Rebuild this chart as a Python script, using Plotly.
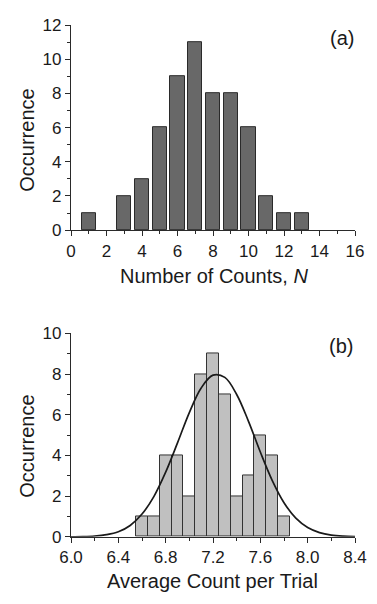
import plotly.graph_objects as go
from plotly.subplots import make_subplots

# Panel (a): number of counts N
counts_n = [1, 3, 4, 5, 6, 7, 8, 9, 10, 11, 12, 13]
counts_occ = [1, 2, 3, 6, 9, 11, 8, 8, 6, 2, 1, 1]

# Panel (b): average count per trial (bin centres, width 0.1)
avg_bins = [6.6, 6.7, 6.8, 6.9, 7.0, 7.1, 7.2, 7.3, 7.4, 7.5, 7.6, 7.7, 7.8]
avg_occ = [1, 1, 4, 4, 2, 8, 9, 7, 2, 3, 5, 4, 1]

# Fitted curve
fit_x = [6.0, 6.1, 6.2, 6.3, 6.4, 6.5, 6.6, 6.7, 6.8, 6.9, 7.0, 7.1, 7.2,
         7.3, 7.4, 7.5, 7.6, 7.7, 7.8, 7.9, 8.0, 8.1, 8.2, 8.3, 8.4]
fit_y = [0.005, 0.015, 0.043, 0.11, 0.25, 0.56, 1.12, 1.98, 3.18, 4.62, 6.11,
         7.32, 7.95, 7.84, 7.00, 5.68, 4.17, 2.78, 1.68, 0.92, 0.46, 0.21,
         0.085, 0.031, 0.011]

W, H = 377, 604
L, R = 71, 22
FONT = "Liberation Sans, Arial, Helvetica, sans-serif"
AX = "#2a2a2a"

def px(x):
    return (x - L) / (W - L - R)

def py(y):
    return (H - y) / H

fig = make_subplots(rows=2, cols=1)

fig.add_trace(go.Bar(x=counts_n, y=counts_occ, width=0.8,
                     marker=dict(color="#686868", line=dict(color="#2a2a2a", width=1)),
                     showlegend=False), row=1, col=1)
fig.add_trace(go.Bar(x=avg_bins, y=avg_occ, width=0.1,
                     marker=dict(color="#c0c0c0", line=dict(color="#333333", width=1)),
                     showlegend=False), row=2, col=1)
fig.add_trace(go.Scatter(x=fit_x, y=fit_y, mode="lines", line_shape="spline",
                         line=dict(color="#1a1a1a", width=1.7), showlegend=False),
              row=2, col=1)

common = dict(showline=True, linecolor=AX, linewidth=1.3, ticks="outside",
              ticklen=5, tickwidth=1.2, tickcolor=AX, showgrid=False,
              zeroline=False, mirror=False,
              tickfont=dict(family=FONT, size=17, color="#1a1a1a"))

fig.update_xaxes(**common, range=[0, 16], dtick=2, tick0=0,
                 minor=dict(dtick=1, ticklen=3, ticks="outside", tickcolor=AX),
                 domain=[0, 1], row=1, col=1)
fig.update_yaxes(**common, range=[0, 12], dtick=2, tick0=0,
                 minor=dict(dtick=1, ticklen=3, ticks="outside", tickcolor=AX),
                 domain=[py(228.3), py(16.7)], row=1, col=1)
fig.update_xaxes(**common, range=[6.0, 8.4], dtick=0.4, tick0=6.0, tickformat=".1f",
                 minor=dict(dtick=0.2, ticklen=3, ticks="outside", tickcolor=AX),
                 domain=[0, 1], row=2, col=1)
fig.update_yaxes(**common, range=[0, 10], dtick=2, tick0=0,
                 minor=dict(dtick=1, ticklen=3, ticks="outside", tickcolor=AX),
                 domain=[py(545), py(335)], row=2, col=1)

ann_font = dict(family=FONT, size=20, color="#1a1a1a")
annotations = [
    dict(text="Occurrence", x=px(27), y=py(136), textangle=-90),
    dict(text="Occurrence", x=px(27), y=py(452), textangle=-90),
    dict(text="Number of Counts, <i>N</i>", x=px(214), y=py(276)),
    dict(text="Average Count per Trial", x=px(212.5), y=py(591)),
    dict(text="(a)", x=px(341.5), y=py(30)),
    dict(text="(b)", x=px(341), y=py(348)),
]
for a in annotations:
    a.update(xref="paper", yref="paper", showarrow=False, xanchor="center",
             yanchor="middle", font=ann_font)

fig.update_layout(width=W, height=H, margin=dict(l=L, r=R, t=0, b=0),
                  paper_bgcolor="white", plot_bgcolor="white", bargap=0,
                  annotations=annotations)

fig.write_html("out.html")
